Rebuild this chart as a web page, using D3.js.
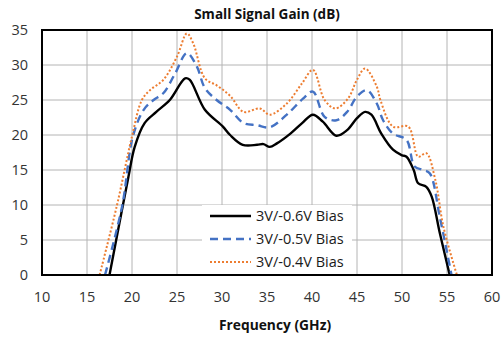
<!DOCTYPE html>
<html><head><meta charset="utf-8">
<script src="https://cdn.jsdelivr.net/npm/d3@7"></script>
<style>body{margin:0;background:#fff;}svg{display:block;}</style>
</head><body><svg id="c" width="503" height="337"></svg>
<script>
const xTicks = [10,15,20,25,30,35,40,45,50,55,60];
const yTicks = [0,5,10,15,20,25,30,35];
const seriesNames = ["3V/-0.6V Bias","3V/-0.5V Bias","3V/-0.4V Bias"];
const freq06 = [17.5,19.6,20.3,21.4,22.7,24.2,25.9,26.4,28.1,30.1,30.9,32.3,33.9,34.6,35.3,36.1,37.6,38.9,40.1,41.2,42.7,43.9,45.0,45.9,46.6,47.7,49.0,50.0,50.5,51.3,51.8,52.7,53.3,54.2,55.3];
const gain06 = [0,14,18.3,21.7,23.3,25,28.1,27.9,23.6,21.2,20,18.6,18.6,18.7,18.3,18.8,20.2,21.7,22.9,21.9,19.9,20.7,22.4,23.3,22.9,20.2,17.9,17.1,16.9,15,13.1,12.6,11.2,6,0];
const freq05 = [17.0,18.9,20.1,21.3,22.4,23.5,24.8,26.1,27.2,28.1,29.4,30.9,32.4,33.9,35.3,37.2,39.0,40.1,41.4,42.7,43.9,45.0,46.1,47.2,47.9,49.0,50.5,51.4,52.4,53.1,54.2,55.5];
const gain05 = [0,9.8,19.8,23.6,25,26,28.8,31.7,29.8,26.7,25,23.6,21.7,21.4,21.1,22.9,25.2,26.2,22.6,22.1,23.3,25.5,26.4,24.5,22.1,20.2,19.3,15.5,15,14.5,8.3,0];
const freq04 = [16.4,18.3,20.0,21.1,22.0,23.5,25.0,26.1,26.8,28.1,29.4,30.9,32.4,34.2,35.3,37.2,38.9,40.1,41.4,42.6,44.0,45.0,45.9,47.2,47.6,49.0,50.7,51.8,52.7,53.7,54.6,56.1];
const gain04 = [0,9.8,19.8,25,26.4,27.9,31.2,34.5,33.1,28.1,27.1,25.6,23.3,23.8,22.9,24.5,27.4,29.3,25,23.8,25.2,27.9,29.5,26.9,25,21.2,21.2,16.9,17.4,13.6,6.9,0];

const svg = d3.select("#c");
const L=42,R=492,T=30,B=275;
const x = d3.scaleLinear().domain([10,60]).range([L,R]);
const y = d3.scaleLinear().domain([0,35]).range([B,T]);
const font = "'Open Sans', 'Liberation Sans', sans-serif";

svg.append("g").selectAll("line").data(xTicks.slice(1,-1)).join("line")
  .attr("x1",d=>x(d)).attr("x2",d=>x(d)).attr("y1",T).attr("y2",B)
  .attr("stroke","#b4b4b4").attr("stroke-width",1);
svg.append("g").selectAll("line").data(yTicks.slice(1,-1)).join("line")
  .attr("x1",L).attr("x2",R).attr("y1",d=>y(d)).attr("y2",d=>y(d))
  .attr("stroke","#b4b4b4").attr("stroke-width",1);

svg.append("clipPath").attr("id","clip").append("rect").attr("x",L).attr("y",T).attr("width",R-L).attr("height",B-T);

const line = d3.line().x(d=>x(d[0])).y(d=>y(d[1])).curve(d3.curveCatmullRom.alpha(0.5));
const series = [
  {pts: d3.zip(freq06,gain06), color:"#000", w:2.4, dash:null},
  {pts: d3.zip(freq05,gain05), color:"#4472C4", w:2.4, dash:"8,5"},
  {pts: d3.zip(freq04,gain04), color:"#ED7D31", w:2, dash:"2,2"}
];

const lg = svg.append("g");
lg.append("rect").attr("x",202).attr("y",205).attr("width",150).attr("height",69).attr("fill","#fff");

const gL = svg.append("g").attr("clip-path","url(#clip)");
series.forEach(s=>{
  gL.append("path").attr("d",line(s.pts)).attr("fill","none")
    .attr("stroke",s.color).attr("stroke-width",s.w)
    .attr("stroke-dasharray",s.dash).attr("stroke-linejoin","round");
});

seriesNames.forEach((n,i)=>{
  const s = series[i];
  const yy = 216 + i*23;
  lg.append("line").attr("x1",210).attr("x2",251).attr("y1",yy).attr("y2",yy)
    .attr("stroke",s.color).attr("stroke-width",s.w).attr("stroke-dasharray",s.dash);
  lg.append("text").attr("x",256).attr("y",yy).attr("dy","0.35em")
    .attr("font-family",font).attr("font-size",14.5).attr("fill","#1a1a1a").text(n);
});

svg.append("rect").attr("x",L).attr("y",T).attr("width",R-L).attr("height",B-T)
  .attr("fill","none").attr("stroke","#000").attr("stroke-width",2);

svg.append("g").selectAll("text").data(yTicks).join("text")
  .attr("x",L-14).attr("y",d=>y(d)).attr("dy","0.35em").attr("text-anchor","end")
  .attr("font-family",font).attr("font-size",14.5).attr("fill","#333").text(d=>d);
svg.append("g").selectAll("text").data(xTicks).join("text")
  .attr("x",d=>x(d)).attr("y",B+22).attr("dy","0.35em").attr("text-anchor","middle")
  .attr("font-family",font).attr("font-size",14.5).attr("fill","#333").text(d=>d);

svg.append("text").attr("x",267).attr("y",14).attr("dy","0.35em").attr("text-anchor","middle")
  .attr("font-family",font).attr("font-size",13.5).attr("font-weight","bold").attr("fill","#111")
  .text("Small Signal Gain (dB)");
svg.append("text").attr("x",275).attr("y",325).attr("dy","0.35em").attr("text-anchor","middle")
  .attr("font-family",font).attr("font-size",13.8).attr("font-weight","bold").attr("fill","#111")
  .text("Frequency (GHz)");
</script></body></html>
